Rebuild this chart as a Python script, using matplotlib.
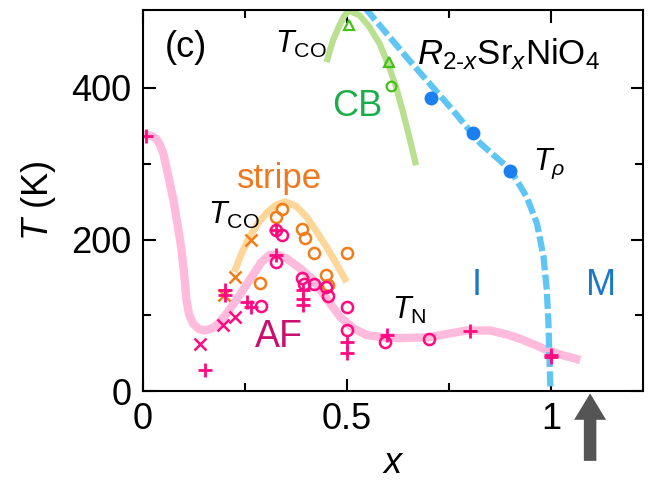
import matplotlib
matplotlib.use('Agg')
import matplotlib.pyplot as plt

plt.rcParams['font.family'] = ['Liberation Sans', 'DejaVu Sans']
plt.rcParams['mathtext.fontset'] = 'custom'
plt.rcParams['mathtext.rm'] = 'Liberation Sans'
plt.rcParams['mathtext.it'] = 'Liberation Sans:italic'
plt.rcParams['mathtext.bf'] = 'Liberation Sans:bold'

# guide lines
tn_x = [0, 0.02, 0.033, 0.042, 0.05, 0.062, 0.075, 0.085, 0.095, 0.102, 0.107, 0.113,
        0.123, 0.137, 0.152, 0.17, 0.185, 0.205, 0.235, 0.262, 0.29, 0.311, 0.33,
        0.352, 0.385, 0.417, 0.45, 0.483, 0.515, 0.548, 0.59, 0.63, 0.70, 0.75,
        0.793, 0.85, 0.89, 0.924, 0.96, 0.99, 1.03, 1.071]
tn_T = [338, 337, 333, 325, 314, 285, 252, 220, 186, 150, 120, 102,
        89, 82, 80, 83, 89, 102, 125, 147, 170, 180, 180,
        175, 162, 147, 122, 98, 83, 74, 71, 70, 71, 76,
        80, 80, 75, 69, 61, 54, 47, 41]
stripe_x = [0.224, 0.242, 0.262, 0.283, 0.303, 0.325, 0.348, 0.375, 0.401, 0.425, 0.45, 0.475, 0.499]
stripe_T = [157, 182, 204, 222, 235, 245, 250, 244, 230, 211, 190, 167, 144]
cb_x = [0.45, 0.465, 0.48, 0.492, 0.504, 0.53, 0.554, 0.58, 0.603, 0.62, 0.636, 0.652, 0.669]
cb_T = [434, 462, 481, 494, 502, 496, 481, 458, 428, 401, 370, 336, 298]
rho_x = [0.545, 0.653, 0.76, 0.826, 0.90, 0.94, 0.965, 0.981, 0.989, 0.993, 0.998]
rho_T = [505, 436, 370, 327, 292, 256, 221, 177, 133, 89, 0]

# stripe T_CO (orange)
so_x_x = [0.266, 0.225, 0.20]
so_x_T = [199, 151, 127]
so_o_x = [0.340, 0.327, 0.389, 0.397, 0.42, 0.50, 0.287, 0.448, 0.453]
so_o_T = [240, 230, 214, 202, 182, 182, 142, 153, 140]

# T_N (magenta)
af_o_x = [0.327, 0.34, 0.327, 0.389, 0.395, 0.42, 0.448, 0.453, 0.29, 0.50, 0.50, 0.593, 0.70]
af_o_T = [212, 206, 171, 149, 141, 141, 138, 125, 112, 111, 81, 65, 69]
af_p_x = [0.007, 0.152, 0.327, 0.327, 0.201, 0.201, 0.254, 0.266, 0.393, 0.393, 0.393,
          0.50, 0.50, 0.597, 0.80, 1.0, 1.0]
af_p_T = [337, 28, 213, 180, 133, 127, 118, 111, 133, 122, 113, 65, 50, 74, 79, 45, 48]
af_x_x = [0.14, 0.197, 0.225]
af_x_T = [62, 87, 98]

# CB (green) and T_rho (blue)
cb_tri_x = [0.505, 0.603]
cb_tri_T = [483, 434]
cb_o_x = [0.607]
cb_o_T = [403]
rho_pt_x = [0.706, 0.809, 0.90]
rho_pt_T = [387, 340, 290]

fig = plt.figure(figsize=(6.55, 4.92), dpi=100)
ax = fig.add_axes([0.218, 0.205, 0.764, 0.775])

ax.plot(tn_x, tn_T, color='#ffbadc', lw=6, solid_capstyle='butt', solid_joinstyle='round')
ax.plot(stripe_x, stripe_T, color='#fdd699', lw=5, solid_capstyle='butt', solid_joinstyle='round')
ax.plot(cb_x, cb_T, color='#b8e08e', lw=4.5, solid_capstyle='butt', solid_joinstyle='round')
ax.plot(rho_x, rho_T, color='#5ec5f5', lw=4.5, dashes=(2.4, 0.7))

ax.plot(so_x_x, so_x_T, 'x', color='#f07d1a', ms=9, mew=1.8)
ax.plot(so_o_x, so_o_T, 'o', color='#f07d1a', mfc='none', ms=8, mew=1.8)
ax.plot(af_o_x, af_o_T, 'o', color='#ff0a80', mfc='none', ms=8, mew=1.8)
ax.plot(af_p_x, af_p_T, '+', color='#ff0a80', ms=10, mew=2)
ax.plot(af_x_x, af_x_T, 'x', color='#ff0a80', ms=9, mew=1.8)
ax.plot(cb_tri_x, cb_tri_T, '^', color='#44c01a', mfc='none', ms=7, mew=1.6)
ax.plot(cb_o_x, cb_o_T, 'o', color='#44c01a', mfc='none', ms=7, mew=1.6)
ax.plot(rho_pt_x, rho_pt_T, 'o', color='#1a80f0', ms=10, mec='none')

ax.set_xlim(0, 1.225)
ax.set_ylim(0, 503)
ax.set_xticks([0, 0.5, 1])
ax.set_xticklabels(['0', '0.5', '1'])
ax.set_xticks([0.25, 0.75], minor=True)
ax.set_yticks([0, 200, 400])
ax.set_yticks([100, 300], minor=True)
ax.tick_params(which='both', direction='in', top=True, right=True, labelsize=26, width=1.5, pad=8)
ax.tick_params(which='major', length=9)
ax.tick_params(which='minor', length=6)
for s in ax.spines.values():
    s.set_linewidth(1.5)
ax.set_xlabel('$x$', fontsize=26, labelpad=6)
ax.set_ylabel('$T$ (K)', fontsize=26, labelpad=10)

ax.text(0.054, 453, '(c)', fontsize=26, va='center')
ax.text(0.324, 457, '$T_{\\mathrm{CO}}$', fontsize=22, va='center')
ax.text(0.463, 376, 'CB', fontsize=26, va='center', color='#1aae4a')
ax.text(0.672, 444, '$R_{2\\text{-}x}$Sr$_x$NiO$_4$', fontsize=25, va='center')
ax.text(0.956, 300, '$T_\\rho$', fontsize=22, va='center')
ax.text(0.23, 281, 'stripe', fontsize=25, va='center', color='#f07820')
ax.text(0.16, 232, '$T_{\\mathrm{CO}}$', fontsize=22, va='center')
ax.text(0.275, 72, 'AF', fontsize=27, va='center', color='#c8106e')
ax.text(0.61, 107, '$T_{\\mathrm{N}}$', fontsize=22, va='center')
ax.text(0.816, 140, 'I', fontsize=26, va='center', ha='center', color='#1a78c8')
ax.text(1.123, 140, 'M', fontsize=26, va='center', ha='center', color='#1a78c8')

ax.annotate('', xy=(1.095, -3), xytext=(1.095, -92), annotation_clip=False,
            arrowprops=dict(facecolor='#555555', edgecolor='none', width=9, headwidth=23, headlength=19))

fig.savefig('out.png', dpi=100)
